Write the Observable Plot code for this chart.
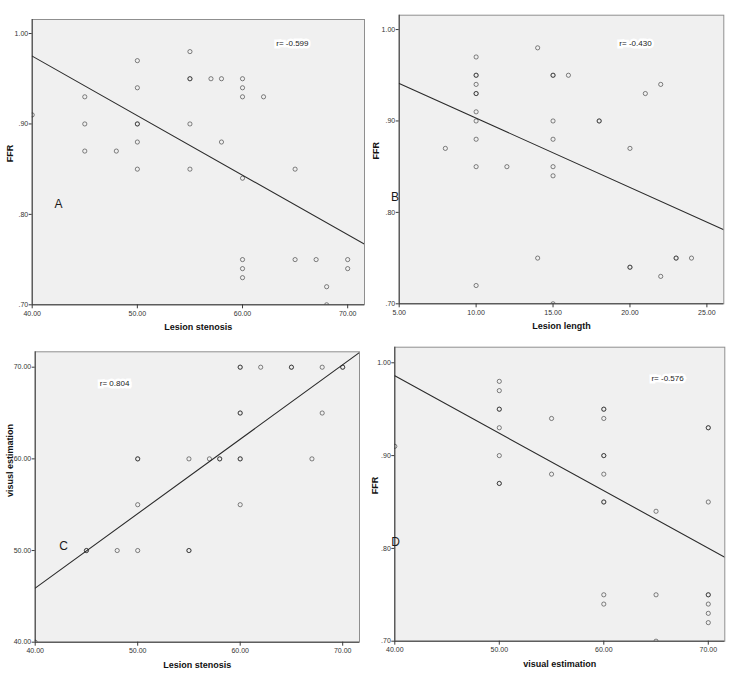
<!DOCTYPE html>
<html><head><meta charset="utf-8">
<script src="https://cdn.jsdelivr.net/npm/d3@7"></script>
<script src="https://cdn.jsdelivr.net/npm/@observablehq/plot@0.6"></script>
<style>
html,body{margin:0;padding:0;background:#fff;}
#wrap{position:relative;width:744px;height:678px;overflow:hidden;background:#fff;}
.panel{position:absolute;width:372px;height:339px;}
</style></head><body><div id="wrap"></div>
<script>
// ---- Panel A: Lesion stenosis vs FFR ----
const stenosisA = [40,45,45,45,48,50,50,50,50,50,50,55,55,55,55,55,57,58,58,60,60,60,60,60,60,60,62,65,65,67,68,68,70,70];
const ffrA      = [.91,.93,.90,.87,.87,.97,.94,.90,.90,.88,.85,.98,.95,.95,.90,.85,.95,.95,.88,.95,.94,.93,.84,.75,.74,.73,.93,.85,.75,.75,.72,.70,.75,.74];
const fitA_x = [40, 71.6];
const fitA_y = [0.975, 0.767];

// ---- Panel B: Lesion length vs FFR ----
const lengthB = [8,10,10,10,10,10,10,10,10,10,10,10,12,14,14,15,15,15,15,15,15,15,16,18,18,20,20,20,21,22,22,23,23,24];
const ffrB    = [.87,.97,.95,.95,.94,.93,.93,.91,.90,.88,.85,.72,.85,.98,.75,.95,.95,.90,.88,.85,.84,.70,.95,.90,.90,.87,.74,.74,.93,.94,.73,.75,.75,.75];
const fitB_x = [5, 26.1];
const fitB_y = [0.941, 0.781];

// ---- Panel C: Lesion stenosis vs visual estimation ----
const stenosisC = [40,45,45,48,50,50,50,50,55,55,55,57,58,58,60,60,60,60,60,60,60,62,65,65,67,68,68,70,70];
const visualC   = [40,50,50,50,50,55,60,60,50,50,60,60,60,60,70,70,65,65,60,60,55,70,70,70,60,70,65,70,70];
const fitC_x = [40, 71.64];
const fitC_y = [45.9, 71.6];

// ---- Panel D: visual estimation vs FFR ----
const visualD = [40,50,50,50,50,50,50,50,50,55,55,60,60,60,60,60,60,60,60,60,60,65,65,65,70,70,70,70,70,70,70,70];
const ffrD    = [.91,.98,.97,.95,.95,.93,.90,.87,.87,.94,.88,.95,.95,.94,.90,.90,.88,.85,.85,.75,.74,.84,.75,.70,.93,.93,.85,.75,.75,.74,.73,.72];
const fitD_x = [40, 71.58];
const fitD_y = [0.986, 0.7905];

// ---- ticks & labels ----
const ticksStenosis = [40, 50, 60, 70];
const ticksLength = [5, 10, 15, 20, 25];
const ticksFFR = [0.70, 0.80, 0.90, 1.00];
const ticksVisual = [40, 50, 60, 70];
const rLabels = ["r= -0.599", "r= -0.430", "r= 0.804", "r= -0.576"];
const panelLetters = ["A", "B", "C", "D"];
const xTitles = ["Lesion stenosis", "Lesion length", "Lesion stenosis", "visual estimation"];
const yTitles = ["FFR", "FFR", "visusl estimation", "FFR"];

const fmt2 = d => d.toFixed(2);
const fmtFFR = d => d >= 1 ? d.toFixed(2) : d.toFixed(2).slice(1);

const FONT = "'Liberation Sans', Arial, Helvetica, sans-serif";
const TICKFONT = "'Liberation Sans Narrow', 'Liberation Sans', Arial, sans-serif";

function panel(cfg) {
  const pts = cfg.xs.map((x, i) => ({x, y: cfg.ys[i]}));
  const fit = cfg.fitX.map((x, i) => ({x, y: cfg.fitY[i]}));
  const chart = Plot.plot({
    width: 372, height: 339,
    marginLeft: cfg.mL, marginRight: cfg.mR, marginTop: cfg.mT, marginBottom: cfg.mB,
    x: {domain: cfg.xDomain},
    y: {domain: cfg.yDomain},
    style: {fontFamily: FONT, background: "transparent", overflow: "visible"},
    marks: [
      Plot.frame({fill: "#f0f0f0", stroke: "#8f8f8f", strokeWidth: 1}),
      Plot.ruleX([cfg.xDomain[0]], {stroke: "#3a3a3a", strokeWidth: 1}),
      Plot.ruleY([cfg.yDomain[0]], {stroke: "#3a3a3a", strokeWidth: 1}),
      Plot.axisX({ticks: cfg.xTicks, tickFormat: cfg.xFmt, tickSize: 4, tickPadding: 2,
        fontSize: 7, fontFamily: TICKFONT, label: null, stroke: "#3a3a3a", fill: "#333"}),
      Plot.axisY({ticks: cfg.yTicks, tickFormat: cfg.yFmt, tickSize: 3, tickPadding: 1,
        fontSize: 7, fontFamily: TICKFONT, label: null, stroke: "#3a3a3a", fill: "#333"}),
      Plot.line(fit, {x: "x", y: "y", stroke: "#2b2b2b", strokeWidth: 1.1, clip: true}),
      Plot.dot(pts, {x: "x", y: "y", r: 2.1, stroke: "#1e1e1e", strokeOpacity: 0.6, strokeWidth: 0.9, fill: "none", clip: true}),
      Plot.text([{t: cfg.rText, x: cfg.rX, y: cfg.rY}], {x: "x", y: "y", text: "t",
        fontSize: 8, fill: "#222", stroke: "white", strokeWidth: 5, strokeLinejoin: "miter"}),
      Plot.text([{t: cfg.letter, x: cfg.lX, y: cfg.lY}], {x: "x", y: "y", text: "t",
        fontSize: 12, fill: "#1a1a1a"}),
      Plot.text([cfg.xTitle], {text: d => d, frameAnchor: "bottom", dy: cfg.xDy,
        fontSize: 9, fontWeight: "bold", fill: "#111"}),
      Plot.text([cfg.yTitle], {text: d => d, frameAnchor: "left", dx: cfg.yDx, rotate: -90,
        fontSize: 9, fontWeight: "bold", fill: "#111"})
    ]
  });
  const div = document.createElement("div");
  div.className = "panel";
  div.style.left = cfg.left + "px";
  div.style.top = cfg.top + "px";
  div.appendChild(chart);
  document.getElementById("wrap").appendChild(div);
}

panel({left: 0, top: 0, mL: 31.7, mR: 8, mT: 19, mB: 34.7,
  xDomain: [40, 71.6], yDomain: [0.70, 1.0155], xTicks: ticksStenosis, yTicks: ticksFFR, xFmt: fmt2, yFmt: fmtFFR,
  xs: stenosisA, ys: ffrA, fitX: fitA_x, fitY: fitA_y,
  rText: rLabels[0], rX: 64.74, rY: 0.989, letter: panelLetters[0], lX: 42.5, lY: 0.811,
  xTitle: xTitles[0], yTitle: yTitles[0], xDy: 24.7, yDx: -21.7});

panel({left: 372, top: 0, mL: 26.7, mR: 20.7, mT: 14.7, mB: 35.7,
  xDomain: [5, 26.1], yDomain: [0.70, 1.0157], xTicks: ticksLength, yTicks: ticksFFR, xFmt: fmt2, yFmt: fmtFFR,
  xs: lengthB, ys: ffrB, fitX: fitB_x, fitY: fitB_y,
  rText: rLabels[1], rX: 20.36, rY: 0.985, letter: panelLetters[1], lX: 4.72, lY: 0.8165,
  xTitle: xTitles[1], yTitle: yTitles[1], xDy: 24.7, yDx: -22.7});

panel({left: 0, top: 339, mL: 34.7, mR: 13, mT: 12.3, mB: 36.3,
  xDomain: [40, 71.64], yDomain: [40, 71.68], xTicks: ticksStenosis, yTicks: ticksVisual, xFmt: fmt2, yFmt: fmt2,
  xs: stenosisC, ys: visualC, fitX: fitC_x, fitY: fitC_y,
  rText: rLabels[2], rX: 47.74, rY: 68.22, letter: panelLetters[2], lX: 42.76, lY: 50.44,
  xTitle: xTitles[2], yTitle: yTitles[2], xDy: 25.3, yDx: -24.7});

panel({left: 372, top: 339, mL: 22.3, mR: 19.7, mT: 7.7, mB: 37.3,
  xDomain: [40, 71.58], yDomain: [0.70, 1.0168], xTicks: ticksVisual, yTicks: ticksFFR, xFmt: fmt2, yFmt: fmtFFR,
  xs: visualD, ys: ffrD, fitX: fitD_x, fitY: fitD_y,
  rText: rLabels[3], rX: 66.1, rY: 0.983, letter: panelLetters[3], lX: 40.07, lY: 0.807,
  xTitle: xTitles[3], yTitle: yTitles[3], xDy: 25.3, yDx: -19.3});
</script>
</body></html>
